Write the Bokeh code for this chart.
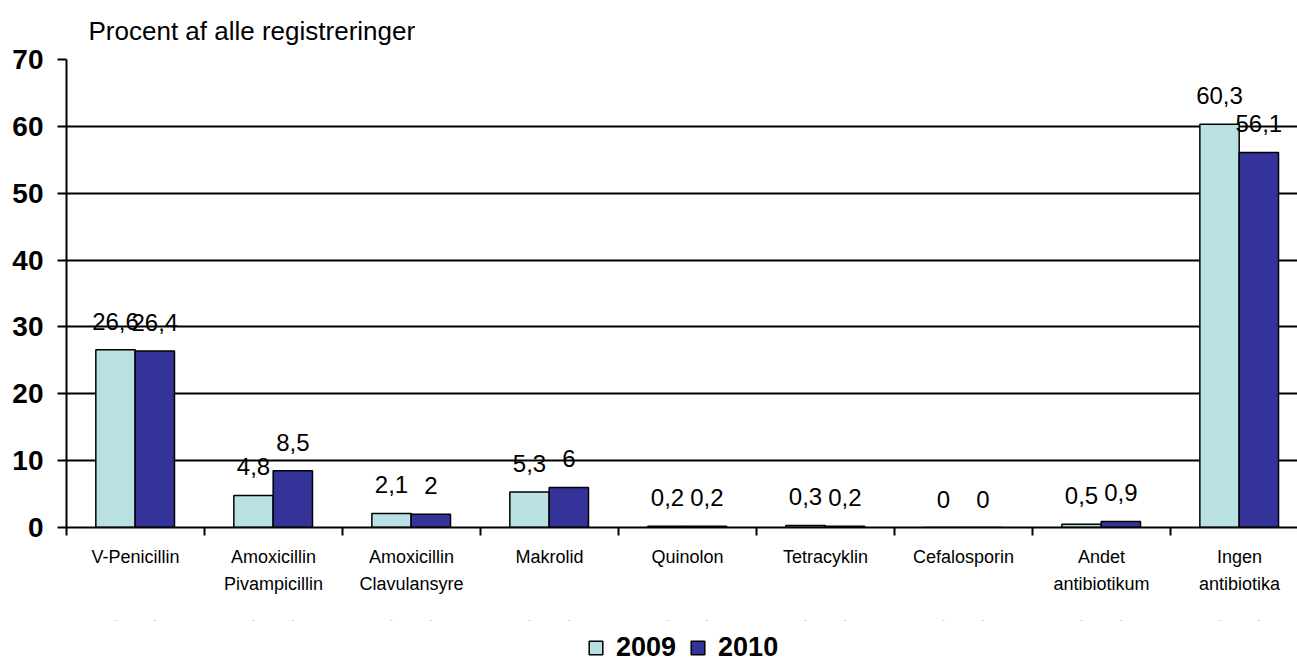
import numpy as np
from bokeh.plotting import figure
from bokeh.layouts import column
from bokeh.models import Range1d, FixedTicker, Legend, LegendItem, LabelSet, ColumnDataSource
from bokeh.core.properties import value
from bokeh.embed import file_html
from bokeh.resources import INLINE

categories = ["V-Penicillin", "Amoxicillin\nPivampicillin", "Amoxicillin\nClavulansyre",
              "Makrolid", "Quinolon", "Tetracyklin", "Cefalosporin",
              "Andet\nantibiotikum", "Ingen\nantibiotika"]
values_2009 = [26.6, 4.8, 2.1, 5.3, 0.2, 0.3, 0, 0.5, 60.3]
values_2010 = [26.4, 8.5, 2, 6, 0.2, 0.2, 0, 0.9, 56.1]
series_names = ["2009", "2010"]
y_ticks = [0, 10, 20, 30, 40, 50, 60, 70]
y_title = "Procent af alle registreringer"

colors = ["#B9E0E2", "#333399"]
FONT = "Liberation Sans"

idx = np.arange(len(categories))
centers = idx + 0.5
bar_w = 0.285
x_2009 = idx + 0.355
x_2010 = idx + 0.64

xr = Range1d(0, 8.92)
p = figure(width=1297, height=620, output_backend="svg", toolbar_location=None,
           x_range=xr, y_range=Range1d(0, 70))
p.min_border_left = 66
p.min_border_right = 0
p.min_border_top = 58
p.min_border_bottom = 93
p.outline_line_color = None
p.background_fill_color = "white"
p.border_fill_color = "white"

# title
p.title.text = y_title
p.title.align = "left"
p.title.offset = 22
p.title.standoff = 27
p.title.text_font = FONT
p.title.text_font_size = "26px"
p.title.text_font_style = "normal"
p.title.text_color = "black"

# bars
src1 = ColumnDataSource(dict(x=x_2009, top=values_2009,
                             lbl=[f"{v:g}".replace(".", ",") for v in values_2009]))
src2 = ColumnDataSource(dict(x=x_2010, top=values_2010,
                             lbl=[f"{v:g}".replace(".", ",") for v in values_2010]))
r1 = p.vbar(x="x", top="top", width=bar_w, bottom=0, source=src1,
            fill_color=colors[0], line_color="black", line_width=1.5)
r2 = p.vbar(x="x", top="top", width=bar_w, bottom=0, source=src2,
            fill_color=colors[1], line_color="black", line_width=1.5)

for s in (src1, src2):
    ls = LabelSet(x="x", y="top", text="lbl", source=s, y_offset=20,
                  text_align="center", text_baseline="alphabetic",
                  text_font=value(FONT), text_font_size=value("24px"), text_color="black")
    p.add_layout(ls)

# y axis
p.yaxis.ticker = FixedTicker(ticks=y_ticks)
p.yaxis.major_label_text_font = FONT
p.yaxis.major_label_text_font_size = "28px"
p.yaxis.major_label_text_font_style = "bold"
p.yaxis.major_label_text_color = "black"
p.yaxis.major_tick_out = 9
p.yaxis.major_tick_in = 0
p.yaxis.minor_tick_line_color = None
p.yaxis.major_label_standoff = 14
p.yaxis.axis_line_color = "black"
p.yaxis.axis_line_width = 2
p.yaxis.major_tick_line_color = "black"
p.yaxis.major_tick_line_width = 2

# grid
p.ygrid.ticker = FixedTicker(ticks=y_ticks)
p.ygrid.grid_line_color = "black"
p.ygrid.grid_line_width = 2
p.xgrid.grid_line_color = None

# x axis
p.xaxis.ticker = FixedTicker(ticks=list(centers), minor_ticks=list(np.arange(len(categories) + 1)))
p.xaxis.major_label_overrides = {float(c): name for c, name in zip(centers, categories)}
p.xaxis.major_tick_out = 0
p.xaxis.major_tick_in = 0
p.xaxis.minor_tick_out = 8
p.xaxis.minor_tick_in = 0
p.xaxis.minor_tick_line_color = "black"
p.xaxis.minor_tick_line_width = 2
p.xaxis.axis_line_color = "black"
p.xaxis.axis_line_width = 2
p.xaxis.major_label_text_font = FONT
p.xaxis.major_label_text_font_size = "18px"
p.xaxis.major_label_text_color = "black"
p.xaxis.major_label_text_line_height = 1.35
p.xaxis.major_label_standoff = 11

# legend in a small strip figure below; its proxy bars are degenerate (zero size)
q = figure(width=1297, height=41, output_backend="svg", toolbar_location=None,
           x_range=xr, y_range=Range1d(-2, -1),
           x_axis_location=None, y_axis_location=None)
q.min_border_left = 0
q.min_border_right = 0
q.min_border_top = 0
q.min_border_bottom = 0
q.outline_line_color = None
q.xgrid.grid_line_color = None
q.ygrid.grid_line_color = None
g1 = q.vbar(x="x", top="top", bottom="top", width=0, source=src1,
            fill_color=colors[0], line_color="black", line_width=1.5)
g2 = q.vbar(x="x", top="top", bottom="top", width=0, source=src2,
            fill_color=colors[1], line_color="black", line_width=1.5)
legend = Legend(items=[LegendItem(label=series_names[0], renderers=[g1]),
                       LegendItem(label=series_names[1], renderers=[g2])],
                orientation="horizontal", location=(521, -2),
                glyph_width=17, glyph_height=17, label_standoff=12, spacing=13,
                padding=0, margin=0, border_line_color=None, background_fill_alpha=0,
                label_text_font=FONT, label_text_font_size="27px",
                label_text_line_height=1.0,
                label_text_font_style="bold", label_text_color="black")
q.add_layout(legend, "center")

layout = column(p, q, spacing=0)
open("out.html", "w").write(file_html(layout, INLINE))
